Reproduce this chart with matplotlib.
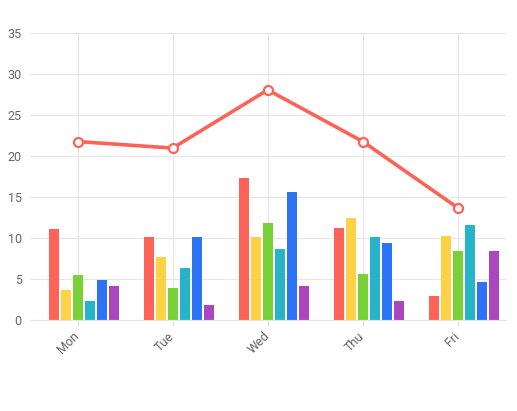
import matplotlib
matplotlib.use("Agg")
import matplotlib.pyplot as plt
import numpy as np

days = ["Mon", "Tue", "Wed", "Thu", "Fri"]

# column series
series_red = [11.1, 10.2, 17.4, 11.2, 3.0]
series_yellow = [3.7, 7.75, 10.1, 12.5, 10.3]
series_green = [5.55, 4.0, 11.9, 5.65, 8.45]
series_teal = [2.35, 6.4, 8.7, 10.1, 11.65]
series_blue = [4.95, 10.1, 15.7, 9.45, 4.7]
series_purple = [4.2, 1.9, 4.2, 2.35, 8.45]

# line series
line_values = [21.8, 21.0, 28.1, 21.8, 13.7]

colors = ["#ff6358", "#ffd246", "#78d237", "#28b4c8", "#2d73f5", "#aa46be"]
grid_color = "#e6e6e6"
text_color = "#656565"

fig = plt.figure(figsize=(5.17, 4.11), dpi=100)
ax = fig.add_axes([30.0 / 517, 1 - 320.3 / 411, 475.5 / 517, 287 / 411])

x = np.arange(len(days))
slot = 12 / 95
width = 10 / 95
bars = [series_red, series_yellow, series_green, series_teal, series_blue, series_purple]
# 7 slots per category, the first one is left for the line series
for i, (vals, c) in enumerate(zip(bars, colors)):
    offset = (i + 1 - 3) * slot
    ax.bar(x + offset, vals, width=width, color=c, zorder=2)

ax.plot(x, line_values, color="#ff6358", lw=2.6, marker="o", markersize=6.5,
        markerfacecolor="white", markeredgecolor="#ff6358", markeredgewidth=1.6,
        zorder=3, solid_capstyle="round")

ax.set_xlim(-0.5, len(days) - 0.5)
ax.set_ylim(0, 35)
ax.set_yticks(np.arange(0, 36, 5))
ax.set_xticks(x)
ax.set_xticklabels(days, rotation=45, ha="right", va="center", rotation_mode="anchor")

ax.grid(True, color=grid_color, lw=0.8, zorder=0)
for side in ["top", "right", "left"]:
    ax.spines[side].set_visible(False)
ax.spines["bottom"].set_color(grid_color)
ax.spines["bottom"].set_linewidth(0.8)

ax.tick_params(axis="y", length=0, pad=6, labelsize=9, labelcolor=text_color)
ax.tick_params(axis="x", length=4, width=0.8, color=grid_color, pad=6,
               labelsize=9, labelcolor=text_color)
for lab in ax.get_xticklabels() + ax.get_yticklabels():
    lab.set_fontfamily("Roboto")

fig.savefig("out.png", dpi=100)
